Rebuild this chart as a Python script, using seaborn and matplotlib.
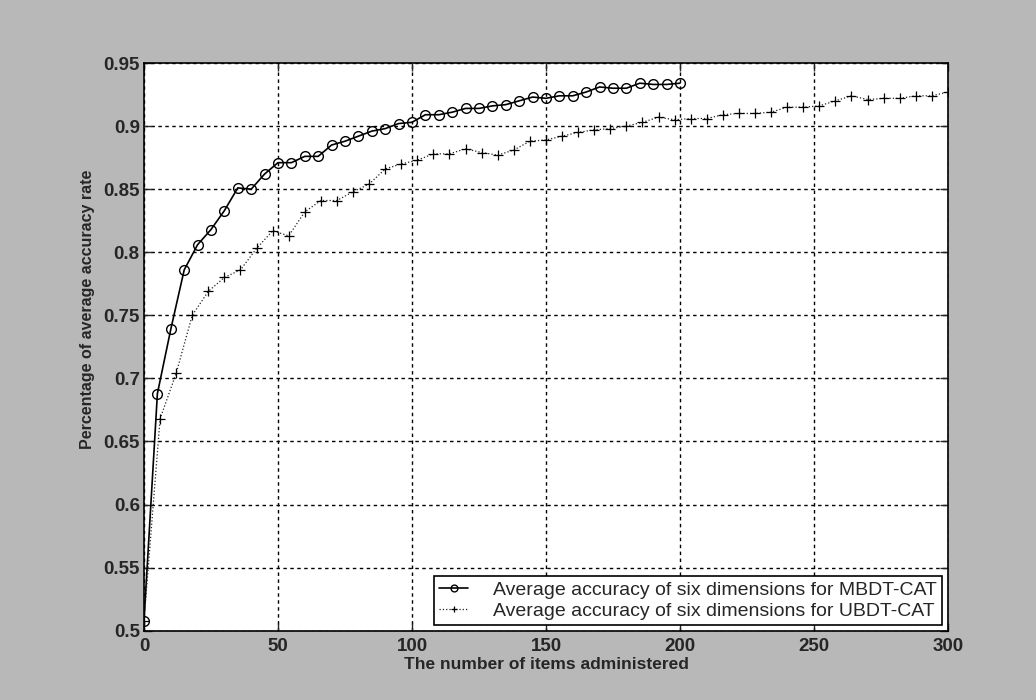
import matplotlib
matplotlib.use("Agg")
import matplotlib.pyplot as plt
import seaborn as sns
import pandas as pd

# Number of items administered and average accuracy for each CAT variant
mbdt_items = list(range(0, 201, 5))
mbdt_acc = [0.508, 0.688, 0.739, 0.786, 0.806, 0.818, 0.833, 0.851, 0.850, 0.862,
            0.871, 0.871, 0.876, 0.876, 0.885, 0.888, 0.892, 0.896, 0.898, 0.902,
            0.903, 0.909, 0.909, 0.911, 0.914, 0.914, 0.916, 0.917, 0.920, 0.923,
            0.922, 0.924, 0.924, 0.927, 0.931, 0.930, 0.930, 0.934, 0.933, 0.933,
            0.934]

ubdt_items = list(range(0, 301, 6))
ubdt_acc = [0.508, 0.668, 0.704, 0.750, 0.769, 0.780, 0.786, 0.803, 0.817, 0.813,
            0.832, 0.841, 0.841, 0.848, 0.854, 0.866, 0.870, 0.873, 0.878, 0.878,
            0.882, 0.879, 0.877, 0.881, 0.888, 0.889, 0.892, 0.895, 0.897, 0.898,
            0.900, 0.903, 0.907, 0.905, 0.906, 0.906, 0.909, 0.910, 0.910, 0.911,
            0.915, 0.915, 0.916, 0.920, 0.924, 0.921, 0.922, 0.922, 0.924, 0.924,
            0.927]

mbdt_label = "Average accuracy of six dimensions for MBDT-CAT"
ubdt_label = "Average accuracy of six dimensions for UBDT-CAT"

x_ticks = [0, 50, 100, 150, 200, 250, 300]
y_ticks = [0.5, 0.55, 0.6, 0.65, 0.7, 0.75, 0.8, 0.85, 0.9, 0.95]
y_tick_labels = ["0.5", "0.55", "0.6", "0.65", "0.7", "0.75", "0.8", "0.85", "0.9", "0.95"]

sns.set_style("ticks")
plt.rcParams["font.family"] = ["Liberation Sans", "DejaVu Sans"]

mbdt = pd.DataFrame({"items": mbdt_items, "acc": mbdt_acc})
ubdt = pd.DataFrame({"items": ubdt_items, "acc": ubdt_acc})

fig = plt.figure(figsize=(10.36, 7.0), dpi=100, facecolor="#b8b8b8")
ax = fig.add_axes([0.139, 0.099, 0.776, 0.811])
ax.set_facecolor("white")

sns.lineplot(data=mbdt, x="items", y="acc", ax=ax, color="black", linewidth=1.2,
             marker="o", markersize=7, markerfacecolor="none",
             markeredgecolor="black", markeredgewidth=1.0, label=mbdt_label)
sns.lineplot(data=ubdt, x="items", y="acc", ax=ax, color="#222222", linewidth=0.9,
             linestyle=":", marker="+", markersize=7, markeredgewidth=0.9,
             markeredgecolor="black", label=ubdt_label)

ax.set_xlim(0, 300)
ax.set_ylim(0.5, 0.95)
ax.set_xticks(x_ticks)
ax.set_xticklabels([str(t) for t in x_ticks])
ax.set_yticks(y_ticks)
ax.set_yticklabels(y_tick_labels)

ax.grid(True, color="black", linestyle=(0, (2.5, 2.5)), linewidth=1.0)
for side in ["top", "right", "bottom", "left"]:
    ax.spines[side].set_visible(True)
    ax.spines[side].set_linewidth(1.2)
    ax.spines[side].set_color("black")

ax.tick_params(axis="both", direction="in", length=6, width=1.0,
               top=True, right=True, labelsize=13.5)
ax.tick_params(axis="x", pad=5.5)
ax.tick_params(axis="y", pad=3)
for lab in ax.get_xticklabels() + ax.get_yticklabels():
    lab.set_fontweight("bold")

ax.set_xlabel("The number of items administered", fontsize=12.5,
              fontweight="bold")
ax.set_ylabel("Percentage of average accuracy rate", fontsize=11.5,
              fontweight="bold")
ax.xaxis.set_label_coords(0.5, -0.047)
ax.yaxis.set_label_coords(-0.061, 0.567)

leg = ax.legend(loc="lower right", fontsize=14, frameon=True, fancybox=False,
                framealpha=1, edgecolor="black", borderpad=0.25,
                handlelength=1.5, handletextpad=1.3, labelspacing=0.2,
                borderaxespad=0.3, markerscale=0.7)
leg.get_frame().set_linewidth(1.2)

fig.savefig("out.png", dpi=100, facecolor=fig.get_facecolor())
